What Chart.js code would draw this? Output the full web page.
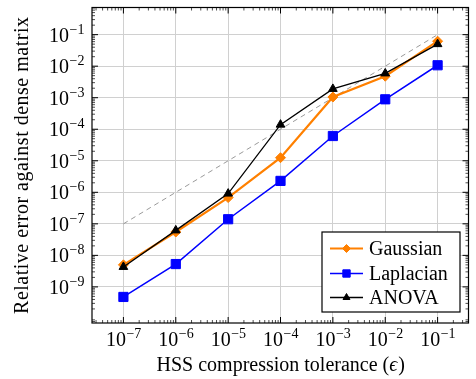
<!DOCTYPE html>
<html lang="en">
<head>
<meta charset="UTF-8">
<title>HSS compression error</title>
<script src="https://cdn.jsdelivr.net/npm/chart.js"></script>
<style>
    html, body { margin: 0; padding: 0; background: #fff; }
    #wrap { width: 476px; height: 379px; }
</style>
</head>
<body>
<div id="wrap"><canvas id="errChart" width="476" height="379"></canvas></div>
<script>
// compression tolerances (x) and measured relative errors (y)
const tolerances = [1e-7, 1e-6, 1e-5, 1e-4, 1e-3, 1e-2, 1e-1];
const gaussian  = [5.0e-9, 5.5e-8, 6.8e-7, 1.25e-5, 1.05e-3, 4.8e-3, 6.2e-2];
const laplacian = [4.8e-10, 5.3e-9, 1.4e-7, 2.3e-6, 6.1e-5, 8.9e-4, 1.07e-2];
const anova     = [4.3e-9, 6.2e-8, 9.1e-7, 1.4e-4, 1.9e-3, 5.9e-3, 5.0e-2];
// reference line error = eps
const refX = [1e-7, 1e-1];
const refY = [1e-7, 1e-1];
// tick exponents
const xTickExp = [-7, -6, -5, -4, -3, -2, -1];
const yTickExp = [-9, -8, -7, -6, -5, -4, -3, -2, -1];

const SERIF = '"Liberation Serif", "Times New Roman", serif';
const toPoints = (xs, ys) => xs.map((x, i) => ({ x: x, y: ys[i] }));

// draws "10^exp" with a raised exponent
function drawPow10(ctx, exp, x, baseY, align) {
    const base = '10';
    const sup = '\u2212' + Math.abs(exp);
    ctx.font = '20px ' + SERIF;
    const w1 = ctx.measureText(base).width;
    ctx.font = '14px ' + SERIF;
    const w2 = ctx.measureText(sup).width;
    let start = align === 'right' ? x - w1 - w2 : x - (w1 + w2) / 2;
    ctx.textAlign = 'left';
    ctx.textBaseline = 'alphabetic';
    ctx.font = '20px ' + SERIF;
    ctx.fillText(base, start, baseY);
    ctx.font = '14px ' + SERIF;
    ctx.fillText(sup, start + w1 + 0.5, baseY - 8);
}

const framePlugin = {
    id: 'frame',
    afterDatasetsDraw(chart) {
        const { ctx, chartArea: a, scales } = chart;
        const xs = scales.x, ys = scales.y;
        ctx.save();
        ctx.strokeStyle = '#000';

        // minor ticks
        ctx.lineWidth = 0.7;
        ctx.beginPath();
        for (let k = -8; k <= 0; k++) {
            for (let m = 2; m <= 9; m++) {
                const v = m * Math.pow(10, k);
                if (v > xs.min && v < xs.max) {
                    const px = xs.getPixelForValue(v);
                    ctx.moveTo(px, a.bottom); ctx.lineTo(px, a.bottom - 3);
                    ctx.moveTo(px, a.top); ctx.lineTo(px, a.top + 3);
                }
            }
        }
        for (let k = -11; k <= 0; k++) {
            for (let m = 2; m <= 9; m++) {
                const v = m * Math.pow(10, k);
                if (v > ys.min && v < ys.max) {
                    const py = ys.getPixelForValue(v);
                    ctx.moveTo(a.left, py); ctx.lineTo(a.left + 3, py);
                    ctx.moveTo(a.right, py); ctx.lineTo(a.right - 3, py);
                }
            }
        }
        ctx.stroke();

        // major ticks
        ctx.lineWidth = 1;
        ctx.beginPath();
        xTickExp.forEach(e => {
            const px = xs.getPixelForValue(Math.pow(10, e));
            ctx.moveTo(px, a.bottom); ctx.lineTo(px, a.bottom - 6);
            ctx.moveTo(px, a.top); ctx.lineTo(px, a.top + 6);
        });
        yTickExp.forEach(e => {
            const py = ys.getPixelForValue(Math.pow(10, e));
            ctx.moveTo(a.left, py); ctx.lineTo(a.left + 6, py);
            ctx.moveTo(a.right, py); ctx.lineTo(a.right - 6, py);
        });
        ctx.stroke();

        // frame
        ctx.lineWidth = 1.2;
        ctx.strokeRect(a.left, a.top, a.right - a.left, a.bottom - a.top);

        // tick labels
        ctx.fillStyle = '#000';
        xTickExp.forEach(e => {
            drawPow10(ctx, e, xs.getPixelForValue(Math.pow(10, e)), a.bottom + 23, 'center');
        });
        yTickExp.forEach(e => {
            drawPow10(ctx, e, 84, ys.getPixelForValue(Math.pow(10, e)) + 7, 'right');
        });

        // axis titles
        ctx.font = '20px ' + SERIF;
        const t1 = 'HSS compression tolerance (';
        const t2 = '\u03F5';
        const t3 = ')';
        const w1 = ctx.measureText(t1).width;
        ctx.font = 'italic 20px ' + SERIF;
        const w2 = ctx.measureText(t2).width;
        ctx.font = '20px ' + SERIF;
        const w3 = ctx.measureText(t3).width;
        let sx = (a.left + a.right) / 2 - (w1 + w2 + w3) / 2;
        ctx.textAlign = 'left';
        ctx.fillText(t1, sx, 371);
        ctx.font = 'italic 20px ' + SERIF;
        ctx.fillText(t2, sx + w1, 371);
        ctx.font = '20px ' + SERIF;
        ctx.fillText(t3, sx + w1 + w2 + 1, 371);

        ctx.save();
        ctx.translate(28, (a.top + a.bottom) / 2);
        ctx.rotate(-Math.PI / 2);
        ctx.textAlign = 'center';
        ctx.letterSpacing = '0.5px';
        ctx.fillText('Relative error against dense matrix', 0, 0);
        ctx.restore();

        // legend box
        const lx = 322, ly = 232, lw = 138, lh = 80;
        ctx.fillStyle = '#fff';
        ctx.fillRect(lx, ly, lw, lh);
        ctx.lineWidth = 1.2;
        ctx.strokeStyle = '#000';
        ctx.strokeRect(lx, ly, lw, lh);
        const rows = chart.data.datasets.filter(d => d.inLegend);
        rows.forEach((d, i) => {
            const y = Math.round(248 + i * 24.5) + 0.5;
            ctx.strokeStyle = d.borderColor;
            ctx.fillStyle = d.pointBackgroundColor;
            ctx.lineWidth = Math.max(d.borderWidth, 1.4);
            ctx.beginPath();
            ctx.moveTo(330, y); ctx.lineTo(363, y);
            ctx.stroke();
            ctx.lineWidth = 1;
            Chart.helpers.drawPoint(ctx, {
                pointStyle: d.pointStyle,
                radius: d.pointRadius * 0.8,
                borderWidth: 1,
                rotation: 0
            }, 346.5, y);
            ctx.fillStyle = '#000';
            ctx.font = '20px ' + SERIF;
            ctx.textBaseline = 'middle';
            ctx.fillText(d.label, 369, y + 1);
        });
        ctx.restore();
    }
};

new Chart(document.getElementById('errChart'), {
    type: 'line',
    data: {
        datasets: [
            {
                label: 'reference',
                data: toPoints(refX, refY),
                borderColor: '#808080',
                borderWidth: 0.8,
                borderDash: [5, 4],
                pointRadius: 0,
                order: 4
            },
            {
                label: 'Gaussian',
                inLegend: true,
                data: toPoints(tolerances, gaussian),
                borderColor: '#ff8000',
                backgroundColor: '#ff8000',
                pointBackgroundColor: '#ff8000',
                borderWidth: 2.2,
                pointStyle: 'rectRot',
                pointRadius: 5,
                pointBorderWidth: 1,
                order: 3
            },
            {
                label: 'Laplacian',
                inLegend: true,
                data: toPoints(tolerances, laplacian),
                borderColor: '#0000ff',
                backgroundColor: '#0000ff',
                pointBackgroundColor: '#0000ff',
                borderWidth: 1.5,
                pointStyle: 'rect',
                pointRadius: 6.5,
                pointBorderWidth: 1,
                order: 2
            },
            {
                label: 'ANOVA',
                inLegend: true,
                data: toPoints(tolerances, anova),
                borderColor: '#000000',
                backgroundColor: '#000000',
                pointBackgroundColor: '#000000',
                borderWidth: 1.3,
                pointStyle: 'triangle',
                pointRadius: 5,
                pointBorderWidth: 1,
                order: 1
            }
        ]
    },
    options: {
        responsive: false,
        animation: false,
        devicePixelRatio: 1,
        layout: { padding: { top: 6, right: 4, left: 0, bottom: 0 } },
        plugins: {
            legend: { display: false },
            tooltip: { enabled: false }
        },
        elements: { line: { tension: 0 } },
        scales: {
            x: {
                type: 'logarithmic',
                min: Math.pow(10, -7.6),
                max: Math.pow(10, -0.41),
                afterBuildTicks: axis => { axis.ticks = xTickExp.map(e => ({ value: Math.pow(10, e) })); },
                afterFit: axis => { axis.height = 56; },
                ticks: { display: false },
                grid: { color: '#d0d0d0', lineWidth: 1, drawTicks: false },
                border: { display: false }
            },
            y: {
                type: 'logarithmic',
                min: Math.pow(10, -10.145),
                max: Math.pow(10, -0.139),
                afterBuildTicks: axis => { axis.ticks = yTickExp.map(e => ({ value: Math.pow(10, e) })); },
                afterFit: axis => { axis.width = 92; },
                ticks: { display: false },
                grid: { color: '#d0d0d0', lineWidth: 1, drawTicks: false },
                border: { display: false }
            }
        }
    },
    plugins: [framePlugin]
});
</script>
</body>
</html>
